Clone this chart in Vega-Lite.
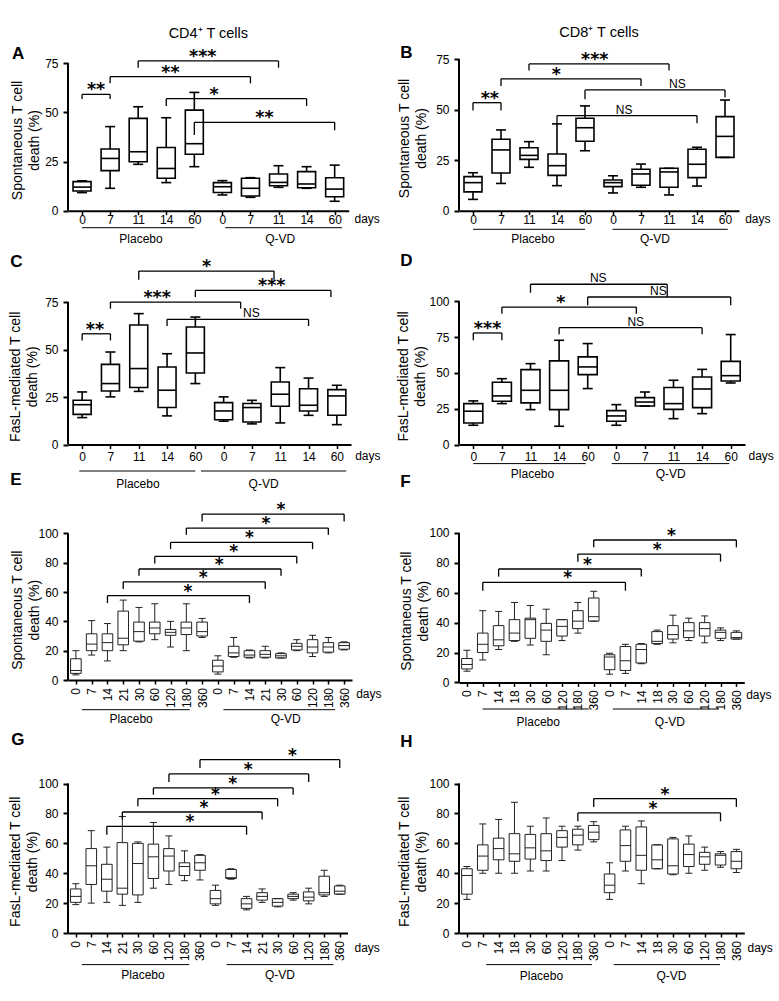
{
"$schema":"https://vega.github.io/schema/vega-lite/v6.json",
"background":"white",
"padding":{"left":8,"top":24,"right":5,"bottom":5},
"datasets":{"d":[
{"p":"A","k":"b","i":0,"mn":9.2,"q1":10,"md":12,"q3":14.8,"mx":15.2},
{"p":"A","k":"b","i":1,"mn":11.4,"q1":20.4,"md":26.6,"q3":31.4,"mx":42.8},
{"p":"A","k":"b","i":2,"mn":23.6,"q1":24.9,"md":30,"q3":47,"mx":52.9},
{"p":"A","k":"b","i":3,"mn":14.3,"q1":16.5,"md":21.5,"q3":32.2,"mx":47.3},
{"p":"A","k":"b","i":4,"mn":22.4,"q1":28.7,"md":34.1,"q3":51.2,"mx":60.2},
{"p":"A","k":"b","i":5,"mn":8,"q1":9.3,"md":12.2,"q3":14.3,"mx":15.3},
{"p":"A","k":"b","i":6,"mn":6.8,"q1":7.5,"md":11.4,"q3":16.5,"mx":16.8},
{"p":"A","k":"b","i":7,"mn":11.9,"q1":12.7,"md":14.4,"q3":18.7,"mx":22.9},
{"p":"A","k":"b","i":8,"mn":11.4,"q1":11.7,"md":13.6,"q3":19.9,"mx":22.4},
{"p":"A","k":"b","i":9,"mn":4.8,"q1":7.1,"md":11,"q3":16.8,"mx":23.2},
{"p":"B","k":"b","i":0,"mn":5.6,"q1":9.3,"md":13.9,"q3":16.9,"mx":18.8},
{"p":"B","k":"b","i":1,"mn":13.5,"q1":18.7,"md":30.1,"q3":35.4,"mx":40},
{"p":"B","k":"b","i":2,"mn":21.5,"q1":25.4,"md":27.4,"q3":31.2,"mx":34.2},
{"p":"B","k":"b","i":3,"mn":12.4,"q1":17.5,"md":22.3,"q3":28.1,"mx":43},
{"p":"B","k":"b","i":4,"mn":29.7,"q1":34.4,"md":41.1,"q3":45.8,"mx":51.9},
{"p":"B","k":"b","i":5,"mn":8.8,"q1":11.9,"md":13.9,"q3":15.2,"mx":17.3},
{"p":"B","k":"b","i":6,"mn":11.6,"q1":12.6,"md":18.2,"q3":20.5,"mx":23.1},
{"p":"B","k":"b","i":7,"mn":7.8,"q1":11.6,"md":19.2,"q3":21,"mx":21},
{"p":"B","k":"b","i":8,"mn":12.2,"q1":16.4,"md":23,"q3":30.4,"mx":31.4},
{"p":"B","k":"b","i":9,"mn":26.4,"q1":26.4,"md":36.8,"q3":46.6,"mx":54.8},
{"p":"C","k":"b","i":0,"mn":14.2,"q1":15.9,"md":21,"q3":23.3,"mx":27.7},
{"p":"C","k":"b","i":1,"mn":25.1,"q1":28.2,"md":32.1,"q3":42.2,"mx":48.7},
{"p":"C","k":"b","i":2,"mn":28,"q1":30,"md":40,"q3":62.9,"mx":68.9},
{"p":"C","k":"b","i":3,"mn":15.1,"q1":19.5,"md":28.6,"q3":40.8,"mx":47.8},
{"p":"C","k":"b","i":4,"mn":32.1,"q1":37.7,"md":48.2,"q3":61.9,"mx":67.1},
{"p":"C","k":"b","i":5,"mn":12.3,"q1":13.1,"md":17.7,"q3":22.1,"mx":25.1},
{"p":"C","k":"b","i":6,"mn":10.9,"q1":11.9,"md":19.5,"q3":21.6,"mx":23.3},
{"p":"C","k":"b","i":7,"mn":11.4,"q1":20.2,"md":26.5,"q3":32.9,"mx":40.5},
{"p":"C","k":"b","i":8,"mn":15.4,"q1":17.7,"md":20.7,"q3":29.4,"mx":35},
{"p":"C","k":"b","i":9,"mn":10.5,"q1":15.4,"md":25.6,"q3":28.9,"mx":31.2},
{"p":"D","k":"b","i":0,"mn":13.5,"q1":15.1,"md":23.3,"q3":28.6,"mx":30.5},
{"p":"D","k":"b","i":1,"mn":28.6,"q1":30.2,"md":34,"q3":43.5,"mx":46},
{"p":"D","k":"b","i":2,"mn":24.4,"q1":29.1,"md":37.9,"q3":52.3,"mx":56.5},
{"p":"D","k":"b","i":3,"mn":12.8,"q1":24.4,"md":37.9,"q3":58.4,"mx":72.8},
{"p":"D","k":"b","i":4,"mn":39.1,"q1":48.8,"md":54.2,"q3":61.2,"mx":70.5},
{"p":"D","k":"b","i":5,"mn":13.5,"q1":16.3,"md":20,"q3":23.7,"mx":27.9},
{"p":"D","k":"b","i":6,"mn":26.9,"q1":26.9,"md":29.7,"q3":32.8,"mx":36.7},
{"p":"D","k":"b","i":7,"mn":18.1,"q1":24.6,"md":28.6,"q3":39.8,"mx":44.9},
{"p":"D","k":"b","i":8,"mn":21.6,"q1":25.8,"md":38.8,"q3":47.2,"mx":52.5},
{"p":"D","k":"b","i":9,"mn":43,"q1":44.4,"md":48.1,"q3":58.1,"mx":76.8},
{"p":"E","k":"b","i":0,"mn":3.5,"q1":4.5,"md":6.5,"q3":14.5,"mx":20},
{"p":"E","k":"b","i":1,"mn":17,"q1":20,"md":24.5,"q3":31.5,"mx":40.5},
{"p":"E","k":"b","i":2,"mn":13,"q1":20,"md":25.5,"q3":31.5,"mx":38.5},
{"p":"E","k":"b","i":3,"mn":20,"q1":24,"md":28.5,"q3":47,"mx":54.5},
{"p":"E","k":"b","i":4,"mn":26,"q1":26.5,"md":33,"q3":39.5,"mx":49.5},
{"p":"E","k":"b","i":5,"mn":27.5,"q1":31.5,"md":35.5,"q3":39.5,"mx":52},
{"p":"E","k":"b","i":6,"mn":22.5,"q1":30.5,"md":32.5,"q3":34.5,"mx":40},
{"p":"E","k":"b","i":7,"mn":20,"q1":31,"md":35.5,"q3":39.5,"mx":52},
{"p":"E","k":"b","i":8,"mn":29,"q1":30,"md":33,"q3":39.5,"mx":42},
{"p":"E","k":"b","i":9,"mn":4,"q1":5.5,"md":9.5,"q3":13.5,"mx":16.5},
{"p":"E","k":"b","i":10,"mn":15.5,"q1":16,"md":18.5,"q3":23,"mx":29},
{"p":"E","k":"b","i":11,"mn":15,"q1":15.5,"md":17,"q3":20,"mx":20.5},
{"p":"E","k":"b","i":12,"mn":15,"q1":15.5,"md":17.5,"q3":20,"mx":23},
{"p":"E","k":"b","i":13,"mn":15,"q1":15,"md":16.5,"q3":18,"mx":18.5},
{"p":"E","k":"b","i":14,"mn":20,"q1":20.5,"md":23,"q3":25,"mx":27.5},
{"p":"E","k":"b","i":15,"mn":16,"q1":18.5,"md":22.5,"q3":27.5,"mx":30.5},
{"p":"E","k":"b","i":16,"mn":18.5,"q1":19,"md":22.5,"q3":25.5,"mx":29},
{"p":"E","k":"b","i":17,"mn":20.5,"q1":21,"md":23.5,"q3":25.5,"mx":26},
{"p":"F","k":"b","i":0,"mn":7.5,"q1":9,"md":12,"q3":16,"mx":21.5},
{"p":"F","k":"b","i":1,"mn":15,"q1":20,"md":25.5,"q3":33,"mx":48},
{"p":"F","k":"b","i":2,"mn":22,"q1":24.5,"md":28.5,"q3":38,"mx":47.5},
{"p":"F","k":"b","i":3,"mn":27.5,"q1":28,"md":33,"q3":42,"mx":53.5},
{"p":"F","k":"b","i":4,"mn":25,"q1":29.5,"md":42,"q3":43,"mx":51.5},
{"p":"F","k":"b","i":5,"mn":18.5,"q1":27.5,"md":35,"q3":39.5,"mx":49},
{"p":"F","k":"b","i":6,"mn":28,"q1":31,"md":37.5,"q3":42,"mx":42},
{"p":"F","k":"b","i":7,"mn":33,"q1":36,"md":41,"q3":48,"mx":53.5},
{"p":"F","k":"b","i":8,"mn":41,"q1":41,"md":44,"q3":56.5,"mx":61},
{"p":"F","k":"b","i":9,"mn":5.5,"q1":8.5,"md":17,"q3":18.5,"mx":19.5},
{"p":"F","k":"b","i":10,"mn":6,"q1":8,"md":14.5,"q3":24,"mx":25.5},
{"p":"F","k":"b","i":11,"mn":12.5,"q1":13,"md":22,"q3":25.5,"mx":26},
{"p":"F","k":"b","i":12,"mn":25.5,"q1":26,"md":27.5,"q3":34,"mx":35},
{"p":"F","k":"b","i":13,"mn":26.5,"q1":29,"md":32,"q3":38,"mx":45},
{"p":"F","k":"b","i":14,"mn":28,"q1":30,"md":34.5,"q3":40,"mx":43},
{"p":"F","k":"b","i":15,"mn":26.5,"q1":31,"md":36,"q3":40,"mx":44.5},
{"p":"F","k":"b","i":16,"mn":28,"q1":29.5,"md":33.5,"q3":35,"mx":36.5},
{"p":"F","k":"b","i":17,"mn":29,"q1":29,"md":30,"q3":33.5,"mx":34.5},
{"p":"G","k":"b","i":0,"mn":19,"q1":20.5,"md":24.5,"q3":29.5,"mx":33},
{"p":"G","k":"b","i":1,"mn":20,"q1":32.5,"md":45,"q3":56.5,"mx":68.5},
{"p":"G","k":"b","i":2,"mn":20.5,"q1":28,"md":36,"q3":46,"mx":57.5},
{"p":"G","k":"b","i":3,"mn":18.5,"q1":26,"md":30,"q3":60.5,"mx":78},
{"p":"G","k":"b","i":4,"mn":20.5,"q1":25.5,"md":46.5,"q3":60,"mx":61},
{"p":"G","k":"b","i":5,"mn":30,"q1":36.5,"md":51,"q3":59.5,"mx":74},
{"p":"G","k":"b","i":6,"mn":32.5,"q1":41.5,"md":51.5,"q3":56.5,"mx":65},
{"p":"G","k":"b","i":7,"mn":35,"q1":38.5,"md":44.5,"q3":47,"mx":55},
{"p":"G","k":"b","i":8,"mn":35.5,"q1":42,"md":47,"q3":52,"mx":52.5},
{"p":"G","k":"b","i":9,"mn":18.5,"q1":19.5,"md":23,"q3":28.5,"mx":32},
{"p":"G","k":"b","i":10,"mn":36,"q1":36.5,"md":37,"q3":42.5,"mx":43},
{"p":"G","k":"b","i":11,"mn":15.5,"q1":16.5,"md":19.5,"q3":23,"mx":24.5},
{"p":"G","k":"b","i":12,"mn":20.5,"q1":22,"md":24.5,"q3":27,"mx":29.5},
{"p":"G","k":"b","i":13,"mn":17.5,"q1":18,"md":20.5,"q3":23,"mx":23},
{"p":"G","k":"b","i":14,"mn":22,"q1":23,"md":24.5,"q3":26,"mx":27},
{"p":"G","k":"b","i":15,"mn":19.5,"q1":21.5,"md":24,"q3":27.5,"mx":30},
{"p":"G","k":"b","i":16,"mn":24.5,"q1":25.5,"md":27,"q3":38,"mx":42},
{"p":"G","k":"b","i":17,"mn":26,"q1":26,"md":28,"q3":31.5,"mx":32},
{"p":"H","k":"b","i":0,"mn":22.5,"q1":26,"md":38.5,"q3":43,"mx":44.5},
{"p":"H","k":"b","i":1,"mn":40,"q1":42,"md":51.5,"q3":59,"mx":73},
{"p":"H","k":"b","i":2,"mn":40,"q1":49,"md":56.5,"q3":63.5,"mx":76},
{"p":"H","k":"b","i":3,"mn":40,"q1":48,"md":53,"q3":66.5,"mx":87.5},
{"p":"H","k":"b","i":4,"mn":41.5,"q1":49.5,"md":57,"q3":66,"mx":71.5},
{"p":"H","k":"b","i":5,"mn":41.5,"q1":48.5,"md":55,"q3":66.5,"mx":77},
{"p":"H","k":"b","i":6,"mn":48.5,"q1":57.5,"md":64,"q3":68.5,"mx":71.5},
{"p":"H","k":"b","i":7,"mn":55.5,"q1":59,"md":65.5,"q3":69.5,"mx":71.5},
{"p":"H","k":"b","i":8,"mn":61,"q1":62.5,"md":67.5,"q3":72,"mx":74.5},
{"p":"H","k":"b","i":9,"mn":22.5,"q1":27,"md":32,"q3":39.5,"mx":47},
{"p":"H","k":"b","i":10,"mn":41.5,"q1":48,"md":58.5,"q3":69,"mx":71.5},
{"p":"H","k":"b","i":11,"mn":33,"q1":42,"md":52,"q3":71,"mx":75},
{"p":"H","k":"b","i":12,"mn":43,"q1":43,"md":49,"q3":59,"mx":59},
{"p":"H","k":"b","i":13,"mn":39,"q1":39.5,"md":45,"q3":63,"mx":64},
{"p":"H","k":"b","i":14,"mn":40,"q1":44.5,"md":52.5,"q3":59.5,"mx":65},
{"p":"H","k":"b","i":15,"mn":42,"q1":46,"md":51,"q3":54,"mx":57.5},
{"p":"H","k":"b","i":16,"mn":44,"q1":45.5,"md":52,"q3":53,"mx":54.5},
{"p":"H","k":"b","i":17,"mn":40.5,"q1":43,"md":48,"q3":54.5,"mx":56},
{"p":"A","k":"r","a":0,"b":1,"y":59.2,"ya":56.8,"yb":56.8,"t":"**","m":0.5},
{"p":"A","k":"r","a":1,"b":6,"y":68.2,"ya":64.8,"yb":64.8,"t":"**","m":3.15},
{"p":"A","k":"r","a":2,"b":7,"y":76.2,"ya":72.8,"yb":72.8,"t":"***","m":4.3},
{"p":"A","k":"r","a":3,"b":8,"y":57,"ya":53.3,"yb":53.3,"t":"*","m":4.7},
{"p":"A","k":"r","a":4,"b":9,"y":45,"ya":38.5,"yb":41,"t":"**","m":6.5},
{"p":"B","k":"r","a":0,"b":1,"y":53.5,"ya":49.6,"yb":49.6,"t":"**","m":0.6},
{"p":"B","k":"r","a":2,"b":7,"y":72.7,"ya":69.4,"yb":69.4,"t":"***","m":4.35},
{"p":"B","k":"r","a":1,"b":6,"y":65.3,"ya":61.8,"yb":61.8,"t":"*","m":2.98},
{"p":"B","k":"r","a":4,"b":9,"y":59.8,"ya":55.2,"yb":56.2,"t":"NS","m":7.3},
{"p":"B","k":"r","a":3,"b":8,"y":47.1,"ya":43,"yb":43.3,"t":"NS","m":5.4},
{"p":"C","k":"r","a":0,"b":1,"y":58.3,"ya":54.8,"yb":54.8,"t":"**","m":0.45},
{"p":"C","k":"r","a":1,"b":5.6,"y":75,"ya":71.5,"yb":71.5,"t":"***","m":2.65},
{"p":"C","k":"r","a":2,"b":6.78,"y":91.3,"ya":86.7,"yb":86.7,"t":"*","m":4.4},
{"p":"C","k":"r","a":4,"b":8.79,"y":81.1,"ya":77.6,"yb":77.6,"t":"***","m":6.7},
{"p":"C","k":"r","a":3,"b":8,"y":65.9,"ya":62.4,"yb":62.4,"t":"NS","m":5.98},
{"p":"D","k":"r","a":0,"b":1,"y":77.9,"ya":72.8,"yb":72.8,"t":"***","m":0.5},
{"p":"D","k":"r","a":1,"b":5.7,"y":96,"ya":91.4,"yb":91.4,"t":"*","m":3.06},
{"p":"D","k":"r","a":2,"b":6.78,"y":111.9,"ya":106,"yb":103,"t":"NS","m":4.37},
{"p":"D","k":"r","a":4,"b":9,"y":103,"ya":97.2,"yb":97.2,"t":"NS","m":6.47},
{"p":"D","k":"r","a":3,"b":8,"y":81.6,"ya":77,"yb":77,"t":"NS","m":5.68},
{"p":"E","k":"r","a":2,"b":11,"y":57.5,"ya":52.5,"yb":52.5,"t":"*","m":7.1},
{"p":"E","k":"r","a":3,"b":12,"y":67,"ya":62,"yb":62,"t":"*","m":8.07},
{"p":"E","k":"r","a":4,"b":13,"y":75.7,"ya":71.1,"yb":71.1,"t":"*","m":9.08},
{"p":"E","k":"r","a":5,"b":14,"y":84.3,"ya":79.5,"yb":79.5,"t":"*","m":10},
{"p":"E","k":"r","a":6,"b":15,"y":93.9,"ya":89.3,"yb":89.3,"t":"*","m":11},
{"p":"E","k":"r","a":7,"b":16,"y":103.6,"ya":99.1,"yb":99.1,"t":"*","m":12.04},
{"p":"E","k":"r","a":8,"b":17,"y":113.2,"ya":108.2,"yb":108.2,"t":"*","m":13},
{"p":"F","k":"r","a":8,"b":17,"y":95.3,"ya":90.4,"yb":90.4,"t":"*","m":12.9},
{"p":"F","k":"r","a":7,"b":16,"y":85.9,"ya":80.8,"yb":80.8,"t":"*","m":12},
{"p":"F","k":"r","a":2,"b":11,"y":75.9,"ya":70.8,"yb":70.8,"t":"*","m":7.6},
{"p":"F","k":"r","a":1,"b":10,"y":67,"ya":61.4,"yb":61.4,"t":"*","m":6.35},
{"p":"G","k":"r","a":8,"b":17,"y":116,"ya":110.5,"yb":110.5,"t":"*","m":13.95},
{"p":"G","k":"r","a":6,"b":15,"y":106.5,"ya":101.1,"yb":101.1,"t":"*","m":11.1},
{"p":"G","k":"r","a":5,"b":14,"y":97.1,"ya":92.6,"yb":92.6,"t":"*","m":10.1},
{"p":"G","k":"r","a":4,"b":13,"y":89.9,"ya":84.8,"yb":84.8,"t":"*","m":9},
{"p":"G","k":"r","a":3,"b":12,"y":81,"ya":75.9,"yb":75.9,"t":"*","m":8.26},
{"p":"G","k":"r","a":2,"b":11,"y":71.4,"ya":65.8,"yb":65.8,"t":"*","m":7.36},
{"p":"H","k":"r","a":8,"b":17,"y":90,"ya":84.4,"yb":84.4,"t":"*","m":12.5},
{"p":"H","k":"r","a":7,"b":16,"y":80.4,"ya":74.8,"yb":74.8,"t":"*","m":11.74},
{"p":"A","k":"g","a":0,"b":4,"m":2.1,"g":"Placebo"},
{"p":"A","k":"g","a":5.1,"b":9.26,"m":7.06,"g":"Q-VD"},
{"p":"B","k":"g","a":0,"b":4,"m":2.14,"g":"Placebo"},
{"p":"B","k":"g","a":4.98,"b":9.1,"m":6.5,"g":"Q-VD"},
{"p":"C","k":"g","a":-0.1,"b":4,"m":1.97,"g":"Placebo"},
{"p":"C","k":"g","a":4.2,"b":9.33,"m":6.41,"g":"Q-VD"},
{"p":"D","k":"g","a":0,"b":3.93,"m":2.07,"g":"Placebo"},
{"p":"D","k":"g","a":4.84,"b":8.95,"m":6.9,"g":"Q-VD"},
{"p":"E","k":"g","a":0.38,"b":7.22,"m":3.5,"g":"Placebo"},
{"p":"E","k":"g","a":9.35,"b":16.43,"m":13.3,"g":"Q-VD"},
{"p":"F","k":"g","a":0.99,"b":7.68,"m":4.5,"g":"Placebo"},
{"p":"F","k":"g","a":9.2,"b":15.9,"m":12.8,"g":"Q-VD"},
{"p":"G","k":"g","a":0.39,"b":7.3,"m":4.33,"g":"Placebo"},
{"p":"G","k":"g","a":9.72,"b":16.6,"m":13.15,"g":"Q-VD"},
{"p":"H","k":"g","a":1.22,"b":7.89,"m":4.7,"g":"Placebo"},
{"p":"H","k":"g","a":9.26,"b":15.97,"m":12.9,"g":"Q-VD"}
]},
"columns":2,
"spacing":{"row":80,"column":107},
"bounds":"flush",
"align":"each",
"concat":[
{"width":280.7,"height":155.7,"data":{"name":"d"},"transform":[{"filter":"datum.p=='A'"}],
 "title":{"text":"CD4⁺ T cells","fontSize":14.5,"anchor":"middle","frame":"group","offset":3},
 "resolve":{"axis":{"x":"independent"}},
 "layer":[
  {"layer":[
   {"transform":[{"filter":"datum.k=='b'"}],"mark":{"type":"rule","strokeWidth":1.6},"encoding":{
     "x":{"field":"i","type":"quantitative","scale":{"domain":[-0.5,9.5],"nice":false,"zero":false},"axis":{"orient":"bottom","values":[0,1,2,3,4,5,6,7,8,9],"tickCount":30,"labelExpr":"['0','7','11','14','60','0','7','11','14','60'][datum.value]","title":"days","titleX":286,"titleY":12.2,"titleAlign":"left","titleBaseline":"alphabetic","titleAngle":0,"titleFontSize":12,"tickSize":4,"tickWidth":1.5,"domainWidth":2,"labelPadding":0,"labelFlush":false,"labelOverlap":false}},
     "y":{"field":"mn","type":"quantitative","scale":{"domain":[0,79.24],"nice":false,"zero":false},"axis":{"values":[0,25,50,75],"tickCount":30,"title":["Spontaneous T cell","death (%)"],"titleX":-47,"titleY":85,"titleAngle":270,"titleAlign":"center","titleBaseline":"alphabetic","titleFontSize":14,"titleLineHeight":17,"domain":false,"tickSize":5,"tickWidth":2,"labelPadding":5,"labelFlush":false,"labelOverlap":false}},
     "y2":{"field":"mx"}}},
   {"transform":[{"filter":"datum.k=='b'"}],"mark":{"type":"rect","fill":"white","stroke":"black","strokeWidth":1.6,"xOffset":-9,"x2Offset":9},"encoding":{"x":{"field":"i","type":"quantitative"},"x2":{"field":"i"},"y":{"field":"q1","type":"quantitative"},"y2":{"field":"q3"}}},
   {"transform":[{"filter":"datum.k=='b'"}],"mark":{"type":"rule","strokeWidth":1.6,"xOffset":-9,"x2Offset":9},"encoding":{"x":{"field":"i","type":"quantitative"},"x2":{"field":"i"},"y":{"field":"md","type":"quantitative"}}},
   {"transform":[{"filter":"datum.k=='b'"}],"mark":{"type":"rule","strokeWidth":1.6,"xOffset":-5,"x2Offset":5},"encoding":{"x":{"field":"i","type":"quantitative"},"x2":{"field":"i"},"y":{"field":"mx","type":"quantitative"}}},
   {"transform":[{"filter":"datum.k=='b'"}],"mark":{"type":"rule","strokeWidth":1.6,"xOffset":-5,"x2Offset":5},"encoding":{"x":{"field":"i","type":"quantitative"},"x2":{"field":"i"},"y":{"field":"mn","type":"quantitative"}}},
   {"transform":[{"filter":"datum.k=='r'"}],"mark":{"type":"rule","strokeWidth":1.3},"encoding":{"x":{"field":"a","type":"quantitative"},"x2":{"field":"b"},"y":{"field":"y","type":"quantitative"}}},
   {"transform":[{"filter":"datum.k=='r'"}],"mark":{"type":"rule","strokeWidth":1.3},"encoding":{"x":{"field":"a","type":"quantitative"},"y":{"field":"ya","type":"quantitative"},"y2":{"field":"y"}}},
   {"transform":[{"filter":"datum.k=='r'"}],"mark":{"type":"rule","strokeWidth":1.3},"encoding":{"x":{"field":"b","type":"quantitative"},"y":{"field":"yb","type":"quantitative"},"y2":{"field":"y"}}},
   {"transform":[{"filter":"datum.k=='r' && datum.t!='NS'"}],"mark":{"type":"text","font":"DejaVu Sans","fontWeight":"bold","fontSize":17.5,"baseline":"alphabetic","dy":1},"encoding":{"x":{"field":"m","type":"quantitative"},"y":{"field":"y","type":"quantitative"},"text":{"field":"t"}}},
   {"transform":[{"filter":"datum.k=='r' && datum.t=='NS'"}],"mark":{"type":"text","fontSize":12,"baseline":"alphabetic","dy":-2},"encoding":{"x":{"field":"m","type":"quantitative"},"y":{"field":"y","type":"quantitative"},"text":{"field":"t"}}},
   {"transform":[{"filter":"datum.k=='g'"}],"mark":{"type":"rule","strokeWidth":1,"yOffset":17},"encoding":{"x":{"field":"a","type":"quantitative"},"x2":{"field":"b"},"y":{"datum":0}}},
   {"transform":[{"filter":"datum.k=='g'"}],"mark":{"type":"text","fontSize":12,"baseline":"alphabetic","yOffset":32.7},"encoding":{"x":{"field":"m","type":"quantitative"},"y":{"datum":0},"text":{"field":"g"}}}
  ]},
  {"data":{"values":[{}]},"mark":{"type":"rule","strokeWidth":2},"encoding":{"x":{"datum":-0.5,"type":"quantitative","axis":{"orient":"top","title":"A","titleX":-56.6,"titleY":3.3,"titleAlign":"left","titleBaseline":"alphabetic","titleAngle":0,"titleFontSize":17,"titleFontWeight":"bold","domain":false,"ticks":false,"labels":false}},"y":{"datum":0,"type":"quantitative"},"y2":{"datum":75}}}
 ]},
{"width":280,"height":155.7,"data":{"name":"d"},"transform":[{"filter":"datum.p=='B'"}],
 "title":{"text":"CD8⁺ T cells","fontSize":14.5,"anchor":"middle","frame":"group","offset":3},
 "resolve":{"axis":{"x":"independent"}},
 "layer":[
  {"layer":[
   {"transform":[{"filter":"datum.k=='b'"}],"mark":{"type":"rule","strokeWidth":1.6},"encoding":{
     "x":{"field":"i","type":"quantitative","scale":{"domain":[-0.5,9.5],"nice":false,"zero":false},"axis":{"orient":"bottom","values":[0,1,2,3,4,5,6,7,8,9],"tickCount":30,"labelExpr":"['0','7','11','14','60','0','7','11','14','60'][datum.value]","title":"days","titleX":285.7,"titleY":12.2,"titleAlign":"left","titleBaseline":"alphabetic","titleAngle":0,"titleFontSize":12,"tickSize":4,"tickWidth":1.5,"domainWidth":2,"labelPadding":0,"labelFlush":false,"labelOverlap":false}},
     "y":{"field":"mn","type":"quantitative","scale":{"domain":[0,77.12],"nice":false,"zero":false},"axis":{"values":[0,25,50,75],"tickCount":30,"title":["Spontaneous T cell","death (%)"],"titleX":-51,"titleY":83,"titleAngle":270,"titleAlign":"center","titleBaseline":"alphabetic","titleFontSize":14,"titleLineHeight":17,"domain":false,"tickSize":5,"tickWidth":2,"labelPadding":5,"labelFlush":false,"labelOverlap":false}},
     "y2":{"field":"mx"}}},
   {"transform":[{"filter":"datum.k=='b'"}],"mark":{"type":"rect","fill":"white","stroke":"black","strokeWidth":1.6,"xOffset":-9,"x2Offset":9},"encoding":{"x":{"field":"i","type":"quantitative"},"x2":{"field":"i"},"y":{"field":"q1","type":"quantitative"},"y2":{"field":"q3"}}},
   {"transform":[{"filter":"datum.k=='b'"}],"mark":{"type":"rule","strokeWidth":1.6,"xOffset":-9,"x2Offset":9},"encoding":{"x":{"field":"i","type":"quantitative"},"x2":{"field":"i"},"y":{"field":"md","type":"quantitative"}}},
   {"transform":[{"filter":"datum.k=='b'"}],"mark":{"type":"rule","strokeWidth":1.6,"xOffset":-5,"x2Offset":5},"encoding":{"x":{"field":"i","type":"quantitative"},"x2":{"field":"i"},"y":{"field":"mx","type":"quantitative"}}},
   {"transform":[{"filter":"datum.k=='b'"}],"mark":{"type":"rule","strokeWidth":1.6,"xOffset":-5,"x2Offset":5},"encoding":{"x":{"field":"i","type":"quantitative"},"x2":{"field":"i"},"y":{"field":"mn","type":"quantitative"}}},
   {"transform":[{"filter":"datum.k=='r'"}],"mark":{"type":"rule","strokeWidth":1.3},"encoding":{"x":{"field":"a","type":"quantitative"},"x2":{"field":"b"},"y":{"field":"y","type":"quantitative"}}},
   {"transform":[{"filter":"datum.k=='r'"}],"mark":{"type":"rule","strokeWidth":1.3},"encoding":{"x":{"field":"a","type":"quantitative"},"y":{"field":"ya","type":"quantitative"},"y2":{"field":"y"}}},
   {"transform":[{"filter":"datum.k=='r'"}],"mark":{"type":"rule","strokeWidth":1.3},"encoding":{"x":{"field":"b","type":"quantitative"},"y":{"field":"yb","type":"quantitative"},"y2":{"field":"y"}}},
   {"transform":[{"filter":"datum.k=='r' && datum.t!='NS'"}],"mark":{"type":"text","font":"DejaVu Sans","fontWeight":"bold","fontSize":17.5,"baseline":"alphabetic","dy":1},"encoding":{"x":{"field":"m","type":"quantitative"},"y":{"field":"y","type":"quantitative"},"text":{"field":"t"}}},
   {"transform":[{"filter":"datum.k=='r' && datum.t=='NS'"}],"mark":{"type":"text","fontSize":12,"baseline":"alphabetic","dy":-2},"encoding":{"x":{"field":"m","type":"quantitative"},"y":{"field":"y","type":"quantitative"},"text":{"field":"t"}}},
   {"transform":[{"filter":"datum.k=='g'"}],"mark":{"type":"rule","strokeWidth":1,"yOffset":18.6},"encoding":{"x":{"field":"a","type":"quantitative"},"x2":{"field":"b"},"y":{"datum":0}}},
   {"transform":[{"filter":"datum.k=='g'"}],"mark":{"type":"text","fontSize":12,"baseline":"alphabetic","yOffset":32.7},"encoding":{"x":{"field":"m","type":"quantitative"},"y":{"datum":0},"text":{"field":"g"}}}
  ]},
  {"data":{"values":[{}]},"mark":{"type":"rule","strokeWidth":2},"encoding":{"x":{"datum":-0.5,"type":"quantitative","axis":{"orient":"top","title":"B","titleX":-59.3,"titleY":2.3,"titleAlign":"left","titleBaseline":"alphabetic","titleAngle":0,"titleFontSize":17,"titleFontWeight":"bold","domain":false,"ticks":false,"labels":false}},"y":{"datum":0,"type":"quantitative"},"y2":{"datum":75}}}
 ]},
{"width":283,"height":153.6,"data":{"name":"d"},"transform":[{"filter":"datum.p=='C'"}],
 "resolve":{"axis":{"x":"independent"}},
 "layer":[
  {"layer":[
   {"transform":[{"filter":"datum.k=='b'"}],"mark":{"type":"rule","strokeWidth":1.6},"encoding":{
     "x":{"field":"i","type":"quantitative","scale":{"domain":[-0.5,9.5],"nice":false,"zero":false},"axis":{"orient":"bottom","values":[0,1,2,3,4,5,6,7,8,9],"tickCount":30,"labelExpr":"['0','7','11','14','60','0','7','11','14','60'][datum.value]","title":"days","titleX":286.7,"titleY":15.2,"titleAlign":"left","titleBaseline":"alphabetic","titleAngle":0,"titleFontSize":12,"tickSize":4,"tickWidth":1.5,"domainWidth":2,"labelPadding":3,"labelFlush":false,"labelOverlap":false}},
     "y":{"field":"mn","type":"quantitative","scale":{"domain":[0,80.8],"nice":false,"zero":false},"axis":{"values":[0,25,50,75],"tickCount":30,"title":["FasL-mediated T cell","death (%)"],"titleX":-48.6,"titleY":85.3,"titleAngle":270,"titleAlign":"center","titleBaseline":"alphabetic","titleFontSize":14,"titleLineHeight":17,"domain":false,"tickSize":5,"tickWidth":2,"labelPadding":5,"labelFlush":false,"labelOverlap":false}},
     "y2":{"field":"mx"}}},
   {"transform":[{"filter":"datum.k=='b'"}],"mark":{"type":"rect","fill":"white","stroke":"black","strokeWidth":1.6,"xOffset":-9,"x2Offset":9},"encoding":{"x":{"field":"i","type":"quantitative"},"x2":{"field":"i"},"y":{"field":"q1","type":"quantitative"},"y2":{"field":"q3"}}},
   {"transform":[{"filter":"datum.k=='b'"}],"mark":{"type":"rule","strokeWidth":1.6,"xOffset":-9,"x2Offset":9},"encoding":{"x":{"field":"i","type":"quantitative"},"x2":{"field":"i"},"y":{"field":"md","type":"quantitative"}}},
   {"transform":[{"filter":"datum.k=='b'"}],"mark":{"type":"rule","strokeWidth":1.6,"xOffset":-5,"x2Offset":5},"encoding":{"x":{"field":"i","type":"quantitative"},"x2":{"field":"i"},"y":{"field":"mx","type":"quantitative"}}},
   {"transform":[{"filter":"datum.k=='b'"}],"mark":{"type":"rule","strokeWidth":1.6,"xOffset":-5,"x2Offset":5},"encoding":{"x":{"field":"i","type":"quantitative"},"x2":{"field":"i"},"y":{"field":"mn","type":"quantitative"}}},
   {"transform":[{"filter":"datum.k=='r'"}],"mark":{"type":"rule","strokeWidth":1.3},"encoding":{"x":{"field":"a","type":"quantitative"},"x2":{"field":"b"},"y":{"field":"y","type":"quantitative"}}},
   {"transform":[{"filter":"datum.k=='r'"}],"mark":{"type":"rule","strokeWidth":1.3},"encoding":{"x":{"field":"a","type":"quantitative"},"y":{"field":"ya","type":"quantitative"},"y2":{"field":"y"}}},
   {"transform":[{"filter":"datum.k=='r'"}],"mark":{"type":"rule","strokeWidth":1.3},"encoding":{"x":{"field":"b","type":"quantitative"},"y":{"field":"yb","type":"quantitative"},"y2":{"field":"y"}}},
   {"transform":[{"filter":"datum.k=='r' && datum.t!='NS'"}],"mark":{"type":"text","font":"DejaVu Sans","fontWeight":"bold","fontSize":17.5,"baseline":"alphabetic","dy":1},"encoding":{"x":{"field":"m","type":"quantitative"},"y":{"field":"y","type":"quantitative"},"text":{"field":"t"}}},
   {"transform":[{"filter":"datum.k=='r' && datum.t=='NS'"}],"mark":{"type":"text","fontSize":12,"baseline":"alphabetic","dy":-2},"encoding":{"x":{"field":"m","type":"quantitative"},"y":{"field":"y","type":"quantitative"},"text":{"field":"t"}}},
   {"transform":[{"filter":"datum.k=='g'"}],"mark":{"type":"rule","strokeWidth":1,"yOffset":26.4},"encoding":{"x":{"field":"a","type":"quantitative"},"x2":{"field":"b"},"y":{"datum":0}}},
   {"transform":[{"filter":"datum.k=='g'"}],"mark":{"type":"text","fontSize":12,"baseline":"alphabetic","yOffset":43.1},"encoding":{"x":{"field":"m","type":"quantitative"},"y":{"datum":0},"text":{"field":"g"}}}
  ]},
  {"data":{"values":[{}]},"mark":{"type":"rule","strokeWidth":2},"encoding":{"x":{"datum":-0.5,"type":"quantitative","axis":{"orient":"top","title":"C","titleX":-58.3,"titleY":-25,"titleAlign":"left","titleBaseline":"alphabetic","titleAngle":0,"titleFontSize":17,"titleFontWeight":"bold","domain":false,"ticks":false,"labels":false}},"y":{"datum":0,"type":"quantitative"},"y2":{"datum":75}}}
 ]},
{"width":286,"height":153.6,"data":{"name":"d"},"transform":[{"filter":"datum.p=='D'"}],
 "resolve":{"axis":{"x":"independent"}},
 "layer":[
  {"layer":[
   {"transform":[{"filter":"datum.k=='b'"}],"mark":{"type":"rule","strokeWidth":1.6},"encoding":{
     "x":{"field":"i","type":"quantitative","scale":{"domain":[-0.5,9.5],"nice":false,"zero":false},"axis":{"orient":"bottom","values":[0,1,2,3,4,5,6,7,8,9],"tickCount":30,"labelExpr":"['0','7','11','14','60','0','7','11','14','60'][datum.value]","title":"days","titleX":289,"titleY":15.2,"titleAlign":"left","titleBaseline":"alphabetic","titleAngle":0,"titleFontSize":12,"tickSize":4,"tickWidth":1.5,"domainWidth":2,"labelPadding":3,"labelFlush":false,"labelOverlap":false}},
     "y":{"field":"mn","type":"quantitative","scale":{"domain":[0,107.19],"nice":false,"zero":false},"axis":{"values":[0,25,50,75,100],"tickCount":30,"title":["FasL-mediated T cell","death (%)"],"titleX":-51.3,"titleY":85,"titleAngle":270,"titleAlign":"center","titleBaseline":"alphabetic","titleFontSize":14,"titleLineHeight":17,"domain":false,"tickSize":5,"tickWidth":2,"labelPadding":5,"labelFlush":false,"labelOverlap":false}},
     "y2":{"field":"mx"}}},
   {"transform":[{"filter":"datum.k=='b'"}],"mark":{"type":"rect","fill":"white","stroke":"black","strokeWidth":1.6,"xOffset":-9.5,"x2Offset":9.5},"encoding":{"x":{"field":"i","type":"quantitative"},"x2":{"field":"i"},"y":{"field":"q1","type":"quantitative"},"y2":{"field":"q3"}}},
   {"transform":[{"filter":"datum.k=='b'"}],"mark":{"type":"rule","strokeWidth":1.6,"xOffset":-9.5,"x2Offset":9.5},"encoding":{"x":{"field":"i","type":"quantitative"},"x2":{"field":"i"},"y":{"field":"md","type":"quantitative"}}},
   {"transform":[{"filter":"datum.k=='b'"}],"mark":{"type":"rule","strokeWidth":1.6,"xOffset":-5,"x2Offset":5},"encoding":{"x":{"field":"i","type":"quantitative"},"x2":{"field":"i"},"y":{"field":"mx","type":"quantitative"}}},
   {"transform":[{"filter":"datum.k=='b'"}],"mark":{"type":"rule","strokeWidth":1.6,"xOffset":-5,"x2Offset":5},"encoding":{"x":{"field":"i","type":"quantitative"},"x2":{"field":"i"},"y":{"field":"mn","type":"quantitative"}}},
   {"transform":[{"filter":"datum.k=='r'"}],"mark":{"type":"rule","strokeWidth":1.3},"encoding":{"x":{"field":"a","type":"quantitative"},"x2":{"field":"b"},"y":{"field":"y","type":"quantitative"}}},
   {"transform":[{"filter":"datum.k=='r'"}],"mark":{"type":"rule","strokeWidth":1.3},"encoding":{"x":{"field":"a","type":"quantitative"},"y":{"field":"ya","type":"quantitative"},"y2":{"field":"y"}}},
   {"transform":[{"filter":"datum.k=='r'"}],"mark":{"type":"rule","strokeWidth":1.3},"encoding":{"x":{"field":"b","type":"quantitative"},"y":{"field":"yb","type":"quantitative"},"y2":{"field":"y"}}},
   {"transform":[{"filter":"datum.k=='r' && datum.t!='NS'"}],"mark":{"type":"text","font":"DejaVu Sans","fontWeight":"bold","fontSize":17.5,"baseline":"alphabetic","dy":1},"encoding":{"x":{"field":"m","type":"quantitative"},"y":{"field":"y","type":"quantitative"},"text":{"field":"t"}}},
   {"transform":[{"filter":"datum.k=='r' && datum.t=='NS'"}],"mark":{"type":"text","fontSize":12,"baseline":"alphabetic","dy":-2},"encoding":{"x":{"field":"m","type":"quantitative"},"y":{"field":"y","type":"quantitative"},"text":{"field":"t"}}},
   {"transform":[{"filter":"datum.k=='g'"}],"mark":{"type":"rule","strokeWidth":1,"yOffset":19},"encoding":{"x":{"field":"a","type":"quantitative"},"x2":{"field":"b"},"y":{"datum":0}}},
   {"transform":[{"filter":"datum.k=='g'"}],"mark":{"type":"text","fontSize":12,"baseline":"alphabetic","yOffset":33.8},"encoding":{"x":{"field":"m","type":"quantitative"},"y":{"datum":0},"text":{"field":"g"}}}
  ]},
  {"data":{"values":[{}]},"mark":{"type":"rule","strokeWidth":2},"encoding":{"x":{"datum":-0.5,"type":"quantitative","axis":{"orient":"top","title":"D","titleX":-59.3,"titleY":-25.7,"titleAlign":"left","titleBaseline":"alphabetic","titleAngle":0,"titleFontSize":17,"titleFontWeight":"bold","domain":false,"ticks":false,"labels":false}},"y":{"datum":0,"type":"quantitative"},"y2":{"datum":100}}}
 ]},
{"width":284,"height":155,"data":{"name":"d"},"transform":[{"filter":"datum.p=='E'"}],
 "resolve":{"axis":{"x":"independent"}},
 "layer":[
  {"layer":[
   {"transform":[{"filter":"datum.k=='b'"}],"mark":{"type":"rule","strokeWidth":1,"color":"#222"},"encoding":{
     "x":{"field":"i","type":"quantitative","scale":{"domain":[-0.5,17.5],"nice":false,"zero":false},"axis":{"orient":"bottom","values":[0,1,2,3,4,5,6,7,8,9,10,11,12,13,14,15,16,17],"tickCount":30,"labelExpr":"['0','7','14','21','30','60','120','180','360','0','7','14','21','30','60','120','180','360'][datum.value]","labelAngle":270,"labelAlign":"right","labelBaseline":"middle","title":"days","titleX":287.7,"titleY":17.7,"titleAlign":"left","titleBaseline":"alphabetic","titleAngle":0,"titleFontSize":12,"tickSize":4,"tickWidth":1.5,"domainWidth":2,"labelPadding":3.5,"labelFlush":false,"labelOverlap":false}},
     "y":{"field":"mn","type":"quantitative","scale":{"domain":[0,105.73],"nice":false,"zero":false},"axis":{"values":[0,20,40,60,80,100],"tickCount":30,"title":["Spontaneous T cell","death (%)"],"titleX":-47,"titleY":84.7,"titleAngle":270,"titleAlign":"center","titleBaseline":"alphabetic","titleFontSize":14,"titleLineHeight":17,"domain":false,"tickSize":5,"tickWidth":2,"labelPadding":5,"labelFlush":false,"labelOverlap":false}},
     "y2":{"field":"mx"}}},
   {"transform":[{"filter":"datum.k=='b'"}],"mark":{"type":"rect","fill":"white","stroke":"#222","strokeWidth":1,"xOffset":-5.3,"x2Offset":5.3},"encoding":{"x":{"field":"i","type":"quantitative"},"x2":{"field":"i"},"y":{"field":"q1","type":"quantitative"},"y2":{"field":"q3"}}},
   {"transform":[{"filter":"datum.k=='b'"}],"mark":{"type":"rule","strokeWidth":1,"color":"#222","xOffset":-5.3,"x2Offset":5.3},"encoding":{"x":{"field":"i","type":"quantitative"},"x2":{"field":"i"},"y":{"field":"md","type":"quantitative"}}},
   {"transform":[{"filter":"datum.k=='b'"}],"mark":{"type":"rule","strokeWidth":1,"color":"#222","xOffset":-3.5,"x2Offset":3.5},"encoding":{"x":{"field":"i","type":"quantitative"},"x2":{"field":"i"},"y":{"field":"mx","type":"quantitative"}}},
   {"transform":[{"filter":"datum.k=='b'"}],"mark":{"type":"rule","strokeWidth":1,"color":"#222","xOffset":-3.5,"x2Offset":3.5},"encoding":{"x":{"field":"i","type":"quantitative"},"x2":{"field":"i"},"y":{"field":"mn","type":"quantitative"}}},
   {"transform":[{"filter":"datum.k=='r'"}],"mark":{"type":"rule","strokeWidth":1.3},"encoding":{"x":{"field":"a","type":"quantitative"},"x2":{"field":"b"},"y":{"field":"y","type":"quantitative"}}},
   {"transform":[{"filter":"datum.k=='r'"}],"mark":{"type":"rule","strokeWidth":1.3},"encoding":{"x":{"field":"a","type":"quantitative"},"y":{"field":"ya","type":"quantitative"},"y2":{"field":"y"}}},
   {"transform":[{"filter":"datum.k=='r'"}],"mark":{"type":"rule","strokeWidth":1.3},"encoding":{"x":{"field":"b","type":"quantitative"},"y":{"field":"yb","type":"quantitative"},"y2":{"field":"y"}}},
   {"transform":[{"filter":"datum.k=='r' && datum.t!='NS'"}],"mark":{"type":"text","font":"DejaVu Sans","fontWeight":"bold","fontSize":17,"baseline":"alphabetic","dy":1},"encoding":{"x":{"field":"m","type":"quantitative"},"y":{"field":"y","type":"quantitative"},"text":{"field":"t"}}},
   {"transform":[{"filter":"datum.k=='g'"}],"mark":{"type":"rule","strokeWidth":1,"yOffset":29.7},"encoding":{"x":{"field":"a","type":"quantitative"},"x2":{"field":"b"},"y":{"datum":0}}},
   {"transform":[{"filter":"datum.k=='g'"}],"mark":{"type":"text","fontSize":12,"baseline":"alphabetic","yOffset":42.5},"encoding":{"x":{"field":"m","type":"quantitative"},"y":{"datum":0},"text":{"field":"g"}}}
  ]},
  {"data":{"values":[{}]},"mark":{"type":"rule","strokeWidth":2},"encoding":{"x":{"datum":-0.5,"type":"quantitative","axis":{"orient":"top","title":"E","titleX":-58.3,"titleY":-41,"titleAlign":"left","titleBaseline":"alphabetic","titleAngle":0,"titleFontSize":17,"titleFontWeight":"bold","domain":false,"ticks":false,"labels":false}},"y":{"datum":0,"type":"quantitative"},"y2":{"datum":100}}}
 ]},
{"width":285.3,"height":157.4,"data":{"name":"d"},"transform":[{"filter":"datum.p=='F'"}],
 "resolve":{"axis":{"x":"independent"}},
 "layer":[
  {"layer":[
   {"transform":[{"filter":"datum.k=='b'"}],"mark":{"type":"rule","strokeWidth":1,"color":"#222"},"encoding":{
     "x":{"field":"i","type":"quantitative","scale":{"domain":[-0.5,17.5],"nice":false,"zero":false},"axis":{"orient":"bottom","values":[0,1,2,3,4,5,6,7,8,9,10,11,12,13,14,15,16,17],"tickCount":30,"labelExpr":"['0','7','14','18','30','60','120','180','360','0','7','14','18','30','60','120','180','360'][datum.value]","labelAngle":270,"labelAlign":"right","labelBaseline":"middle","title":"days","titleX":286.7,"titleY":16.3,"titleAlign":"left","titleBaseline":"alphabetic","titleAngle":0,"titleFontSize":12,"tickSize":4,"tickWidth":1.5,"domainWidth":2,"labelPadding":3.5,"labelFlush":false,"labelOverlap":false}},
     "y":{"field":"mn","type":"quantitative","scale":{"domain":[0,105.35],"nice":false,"zero":false},"axis":{"values":[0,20,40,60,80,100],"tickCount":30,"title":["Spontaneous T cell","death (%)"],"titleX":-49,"titleY":85.7,"titleAngle":270,"titleAlign":"center","titleBaseline":"alphabetic","titleFontSize":14,"titleLineHeight":17,"domain":false,"tickSize":5,"tickWidth":2,"labelPadding":5,"labelFlush":false,"labelOverlap":false}},
     "y2":{"field":"mx"}}},
   {"transform":[{"filter":"datum.k=='b'"}],"mark":{"type":"rect","fill":"white","stroke":"#222","strokeWidth":1,"xOffset":-5.3,"x2Offset":5.3},"encoding":{"x":{"field":"i","type":"quantitative"},"x2":{"field":"i"},"y":{"field":"q1","type":"quantitative"},"y2":{"field":"q3"}}},
   {"transform":[{"filter":"datum.k=='b'"}],"mark":{"type":"rule","strokeWidth":1,"color":"#222","xOffset":-5.3,"x2Offset":5.3},"encoding":{"x":{"field":"i","type":"quantitative"},"x2":{"field":"i"},"y":{"field":"md","type":"quantitative"}}},
   {"transform":[{"filter":"datum.k=='b'"}],"mark":{"type":"rule","strokeWidth":1,"color":"#222","xOffset":-3.5,"x2Offset":3.5},"encoding":{"x":{"field":"i","type":"quantitative"},"x2":{"field":"i"},"y":{"field":"mx","type":"quantitative"}}},
   {"transform":[{"filter":"datum.k=='b'"}],"mark":{"type":"rule","strokeWidth":1,"color":"#222","xOffset":-3.5,"x2Offset":3.5},"encoding":{"x":{"field":"i","type":"quantitative"},"x2":{"field":"i"},"y":{"field":"mn","type":"quantitative"}}},
   {"transform":[{"filter":"datum.k=='r'"}],"mark":{"type":"rule","strokeWidth":1.3},"encoding":{"x":{"field":"a","type":"quantitative"},"x2":{"field":"b"},"y":{"field":"y","type":"quantitative"}}},
   {"transform":[{"filter":"datum.k=='r'"}],"mark":{"type":"rule","strokeWidth":1.3},"encoding":{"x":{"field":"a","type":"quantitative"},"y":{"field":"ya","type":"quantitative"},"y2":{"field":"y"}}},
   {"transform":[{"filter":"datum.k=='r'"}],"mark":{"type":"rule","strokeWidth":1.3},"encoding":{"x":{"field":"b","type":"quantitative"},"y":{"field":"yb","type":"quantitative"},"y2":{"field":"y"}}},
   {"transform":[{"filter":"datum.k=='r' && datum.t!='NS'"}],"mark":{"type":"text","font":"DejaVu Sans","fontWeight":"bold","fontSize":17,"baseline":"alphabetic","dy":1},"encoding":{"x":{"field":"m","type":"quantitative"},"y":{"field":"y","type":"quantitative"},"text":{"field":"t"}}},
   {"transform":[{"filter":"datum.k=='g'"}],"mark":{"type":"rule","strokeWidth":1,"yOffset":26.6},"encoding":{"x":{"field":"a","type":"quantitative"},"x2":{"field":"b"},"y":{"datum":0}}},
   {"transform":[{"filter":"datum.k=='g'"}],"mark":{"type":"text","fontSize":12,"baseline":"alphabetic","yOffset":43.4},"encoding":{"x":{"field":"m","type":"quantitative"},"y":{"datum":0},"text":{"field":"g"}}}
  ]},
  {"data":{"values":[{}]},"mark":{"type":"rule","strokeWidth":2},"encoding":{"x":{"datum":-0.5,"type":"quantitative","axis":{"orient":"top","title":"F","titleX":-59.3,"titleY":-38.3,"titleAlign":"left","titleBaseline":"alphabetic","titleAngle":0,"titleFontSize":17,"titleFontWeight":"bold","domain":false,"ticks":false,"labels":false}},"y":{"datum":0,"type":"quantitative"},"y2":{"datum":100}}}
 ]},
{"width":279.5,"height":170,"data":{"name":"d"},"transform":[{"filter":"datum.p=='G'"}],
 "resolve":{"axis":{"x":"independent"}},
 "layer":[
  {"layer":[
   {"transform":[{"filter":"datum.k=='b'"}],"mark":{"type":"rule","strokeWidth":1,"color":"#222"},"encoding":{
     "x":{"field":"i","type":"quantitative","scale":{"domain":[-0.5,17.5],"nice":false,"zero":false},"axis":{"orient":"bottom","values":[0,1,2,3,4,5,6,7,8,9,10,11,12,13,14,15,16,17],"tickCount":30,"labelExpr":"['0','7','14','21','30','60','120','180','360','0','7','14','21','30','60','120','180','360'][datum.value]","labelAngle":270,"labelAlign":"right","labelBaseline":"middle","title":"days","titleX":286,"titleY":18.8,"titleAlign":"left","titleBaseline":"alphabetic","titleAngle":0,"titleFontSize":12,"tickSize":4,"tickWidth":1.5,"domainWidth":2,"labelPadding":3.5,"labelFlush":false,"labelOverlap":false}},
     "y":{"field":"mn","type":"quantitative","scale":{"domain":[0,113.8],"nice":false,"zero":false},"axis":{"values":[0,20,40,60,80,100],"tickCount":30,"title":["FasL-mediated T cell","death (%)"],"titleX":-48.6,"titleY":98.3,"titleAngle":270,"titleAlign":"center","titleBaseline":"alphabetic","titleFontSize":14,"titleLineHeight":17,"domain":false,"tickSize":5,"tickWidth":2,"labelPadding":5,"labelFlush":false,"labelOverlap":false}},
     "y2":{"field":"mx"}}},
   {"transform":[{"filter":"datum.k=='b'"}],"mark":{"type":"rect","fill":"white","stroke":"#222","strokeWidth":1,"xOffset":-5.3,"x2Offset":5.3},"encoding":{"x":{"field":"i","type":"quantitative"},"x2":{"field":"i"},"y":{"field":"q1","type":"quantitative"},"y2":{"field":"q3"}}},
   {"transform":[{"filter":"datum.k=='b'"}],"mark":{"type":"rule","strokeWidth":1,"color":"#222","xOffset":-5.3,"x2Offset":5.3},"encoding":{"x":{"field":"i","type":"quantitative"},"x2":{"field":"i"},"y":{"field":"md","type":"quantitative"}}},
   {"transform":[{"filter":"datum.k=='b'"}],"mark":{"type":"rule","strokeWidth":1,"color":"#222","xOffset":-3.5,"x2Offset":3.5},"encoding":{"x":{"field":"i","type":"quantitative"},"x2":{"field":"i"},"y":{"field":"mx","type":"quantitative"}}},
   {"transform":[{"filter":"datum.k=='b'"}],"mark":{"type":"rule","strokeWidth":1,"color":"#222","xOffset":-3.5,"x2Offset":3.5},"encoding":{"x":{"field":"i","type":"quantitative"},"x2":{"field":"i"},"y":{"field":"mn","type":"quantitative"}}},
   {"transform":[{"filter":"datum.k=='r'"}],"mark":{"type":"rule","strokeWidth":1.3},"encoding":{"x":{"field":"a","type":"quantitative"},"x2":{"field":"b"},"y":{"field":"y","type":"quantitative"}}},
   {"transform":[{"filter":"datum.k=='r'"}],"mark":{"type":"rule","strokeWidth":1.3},"encoding":{"x":{"field":"a","type":"quantitative"},"y":{"field":"ya","type":"quantitative"},"y2":{"field":"y"}}},
   {"transform":[{"filter":"datum.k=='r'"}],"mark":{"type":"rule","strokeWidth":1.3},"encoding":{"x":{"field":"b","type":"quantitative"},"y":{"field":"yb","type":"quantitative"},"y2":{"field":"y"}}},
   {"transform":[{"filter":"datum.k=='r' && datum.t!='NS'"}],"mark":{"type":"text","font":"DejaVu Sans","fontWeight":"bold","fontSize":17,"baseline":"alphabetic","dy":1},"encoding":{"x":{"field":"m","type":"quantitative"},"y":{"field":"y","type":"quantitative"},"text":{"field":"t"}}},
   {"transform":[{"filter":"datum.k=='g'"}],"mark":{"type":"rule","strokeWidth":1,"yOffset":31.6},"encoding":{"x":{"field":"a","type":"quantitative"},"x2":{"field":"b"},"y":{"datum":0}}},
   {"transform":[{"filter":"datum.k=='g'"}],"mark":{"type":"text","fontSize":12,"baseline":"alphabetic","yOffset":45.7},"encoding":{"x":{"field":"m","type":"quantitative"},"y":{"datum":0},"text":{"field":"g"}}}
  ]},
  {"data":{"values":[{}]},"mark":{"type":"rule","strokeWidth":2},"encoding":{"x":{"datum":-0.5,"type":"quantitative","axis":{"orient":"top","title":"G","titleX":-57.3,"titleY":-18.4,"titleAlign":"left","titleBaseline":"alphabetic","titleAngle":0,"titleFontSize":17,"titleFontWeight":"bold","domain":false,"ticks":false,"labels":false}},"y":{"datum":0,"type":"quantitative"},"y2":{"datum":100}}}
 ]},
{"width":285.3,"height":170,"data":{"name":"d"},"transform":[{"filter":"datum.p=='H'"}],
 "resolve":{"axis":{"x":"independent"}},
 "layer":[
  {"layer":[
   {"transform":[{"filter":"datum.k=='b'"}],"mark":{"type":"rule","strokeWidth":1,"color":"#222"},"encoding":{
     "x":{"field":"i","type":"quantitative","scale":{"domain":[-0.5,17.5],"nice":false,"zero":false},"axis":{"orient":"bottom","values":[0,1,2,3,4,5,6,7,8,9,10,11,12,13,14,15,16,17],"tickCount":30,"labelExpr":"['0','7','14','18','30','60','120','180','360','0','7','14','18','30','60','120','180','360'][datum.value]","labelAngle":270,"labelAlign":"right","labelBaseline":"middle","title":"days","titleX":288,"titleY":18.8,"titleAlign":"left","titleBaseline":"alphabetic","titleAngle":0,"titleFontSize":12,"tickSize":4,"tickWidth":1.5,"domainWidth":2,"labelPadding":3.5,"labelFlush":false,"labelOverlap":false}},
     "y":{"field":"mn","type":"quantitative","scale":{"domain":[0,113.8],"nice":false,"zero":false},"axis":{"values":[0,20,40,60,80,100],"tickCount":30,"title":["FasL-mediated T cell","death (%)"],"titleX":-50.3,"titleY":98.3,"titleAngle":270,"titleAlign":"center","titleBaseline":"alphabetic","titleFontSize":14,"titleLineHeight":17,"domain":false,"tickSize":5,"tickWidth":2,"labelPadding":5,"labelFlush":false,"labelOverlap":false}},
     "y2":{"field":"mx"}}},
   {"transform":[{"filter":"datum.k=='b'"}],"mark":{"type":"rect","fill":"white","stroke":"#222","strokeWidth":1,"xOffset":-5.3,"x2Offset":5.3},"encoding":{"x":{"field":"i","type":"quantitative"},"x2":{"field":"i"},"y":{"field":"q1","type":"quantitative"},"y2":{"field":"q3"}}},
   {"transform":[{"filter":"datum.k=='b'"}],"mark":{"type":"rule","strokeWidth":1,"color":"#222","xOffset":-5.3,"x2Offset":5.3},"encoding":{"x":{"field":"i","type":"quantitative"},"x2":{"field":"i"},"y":{"field":"md","type":"quantitative"}}},
   {"transform":[{"filter":"datum.k=='b'"}],"mark":{"type":"rule","strokeWidth":1,"color":"#222","xOffset":-3.5,"x2Offset":3.5},"encoding":{"x":{"field":"i","type":"quantitative"},"x2":{"field":"i"},"y":{"field":"mx","type":"quantitative"}}},
   {"transform":[{"filter":"datum.k=='b'"}],"mark":{"type":"rule","strokeWidth":1,"color":"#222","xOffset":-3.5,"x2Offset":3.5},"encoding":{"x":{"field":"i","type":"quantitative"},"x2":{"field":"i"},"y":{"field":"mn","type":"quantitative"}}},
   {"transform":[{"filter":"datum.k=='r'"}],"mark":{"type":"rule","strokeWidth":1.3},"encoding":{"x":{"field":"a","type":"quantitative"},"x2":{"field":"b"},"y":{"field":"y","type":"quantitative"}}},
   {"transform":[{"filter":"datum.k=='r'"}],"mark":{"type":"rule","strokeWidth":1.3},"encoding":{"x":{"field":"a","type":"quantitative"},"y":{"field":"ya","type":"quantitative"},"y2":{"field":"y"}}},
   {"transform":[{"filter":"datum.k=='r'"}],"mark":{"type":"rule","strokeWidth":1.3},"encoding":{"x":{"field":"b","type":"quantitative"},"y":{"field":"yb","type":"quantitative"},"y2":{"field":"y"}}},
   {"transform":[{"filter":"datum.k=='r' && datum.t!='NS'"}],"mark":{"type":"text","font":"DejaVu Sans","fontWeight":"bold","fontSize":17,"baseline":"alphabetic","dy":1},"encoding":{"x":{"field":"m","type":"quantitative"},"y":{"field":"y","type":"quantitative"},"text":{"field":"t"}}},
   {"transform":[{"filter":"datum.k=='g'"}],"mark":{"type":"rule","strokeWidth":1,"yOffset":31.6},"encoding":{"x":{"field":"a","type":"quantitative"},"x2":{"field":"b"},"y":{"datum":0}}},
   {"transform":[{"filter":"datum.k=='g'"}],"mark":{"type":"text","fontSize":12,"baseline":"alphabetic","yOffset":46.7},"encoding":{"x":{"field":"m","type":"quantitative"},"y":{"datum":0},"text":{"field":"g"}}}
  ]},
  {"data":{"values":[{}]},"mark":{"type":"rule","strokeWidth":2},"encoding":{"x":{"datum":-0.5,"type":"quantitative","axis":{"orient":"top","title":"H","titleX":-59.3,"titleY":-16.7,"titleAlign":"left","titleBaseline":"alphabetic","titleAngle":0,"titleFontSize":17,"titleFontWeight":"bold","domain":false,"ticks":false,"labels":false}},"y":{"datum":0,"type":"quantitative"},"y2":{"datum":100}}}
 ]}
],
"config":{
 "view":{"stroke":null},
 "axis":{"grid":false,"domainColor":"#000","tickColor":"#000","labelColor":"#000","titleColor":"#000","labelFont":"Liberation Sans","titleFont":"Liberation Sans","labelFontSize":12,"titleFontWeight":"normal"},
 "title":{"font":"Liberation Sans","fontWeight":"normal","color":"#000"},
 "text":{"font":"Liberation Sans","color":"#000"},
 "rule":{"color":"#000"}
}
}
